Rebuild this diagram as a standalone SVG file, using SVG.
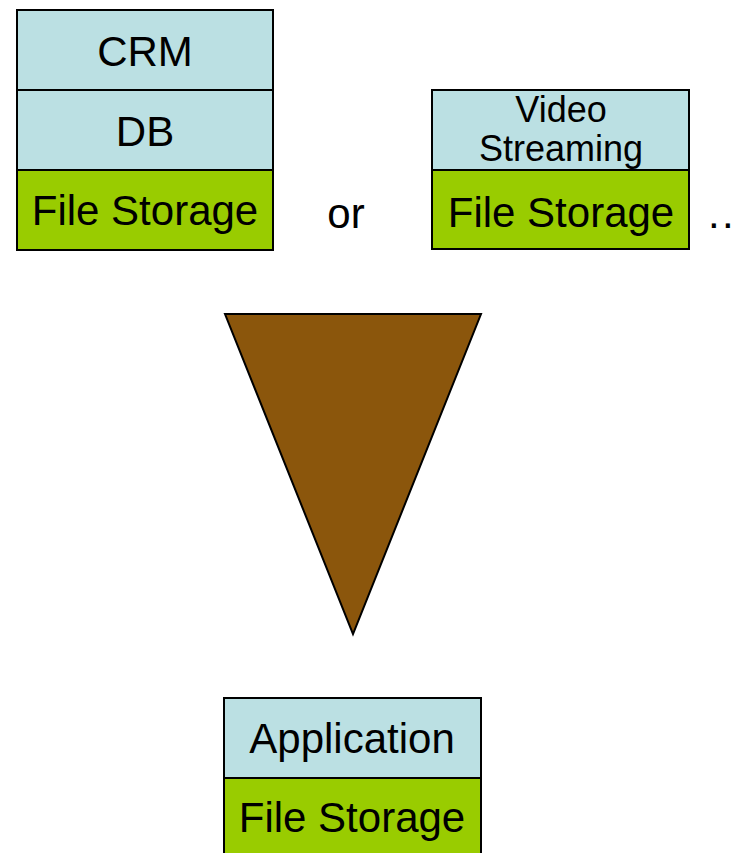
<svg xmlns="http://www.w3.org/2000/svg" width="744" height="853" viewBox="0 0 744 853">
<style>
.app{fill:#BBE0E3;stroke:#000;stroke-width:2}
.fs{fill:#99CC00;stroke:#000;stroke-width:2}
text{font-family:"Liberation Sans",Arial,sans-serif;fill:#000;text-anchor:middle}
.big{font-size:42px}
.mid{font-size:36px}
</style>
<rect width="744" height="853" fill="#fff"/>
<g id="stack-crm">
<rect class="app" x="17" y="10" width="256" height="80"/>
<text class="big" x="145" y="66">CRM</text>
<rect class="app" x="17" y="90" width="256" height="80"/>
<text class="big" x="145" y="146">DB</text>
<rect class="fs" x="17" y="170" width="256" height="80"/>
<text class="big" x="145" y="225">File Storage</text>
</g>
<g id="or-label"><text class="big" x="346" y="228">or</text></g>
<g id="stack-video">
<rect class="app" x="432" y="90" width="257" height="80"/>
<text class="mid" x="561" y="122">Video</text>
<text class="mid" x="561" y="161">Streaming</text>
<rect class="fs" x="432" y="170" width="257" height="79"/>
<text class="big" x="561" y="227">File Storage</text>
</g>
<g id="ellipsis"><text class="big" x="708" y="228" style="text-anchor:start;letter-spacing:2.3px">..</text></g>
<g id="funnel">
<polygon points="225,314 481,314 353,634" fill="#8B560C" stroke="#000" stroke-width="2" stroke-linejoin="miter"/>
</g>
<g id="stack-app">
<rect class="app" x="224" y="698" width="257" height="80"/>
<text class="big" x="352" y="753">Application</text>
<rect class="fs" x="224" y="778" width="257" height="80"/>
<text class="big" x="352" y="832">File Storage</text>
</g>
</svg>
